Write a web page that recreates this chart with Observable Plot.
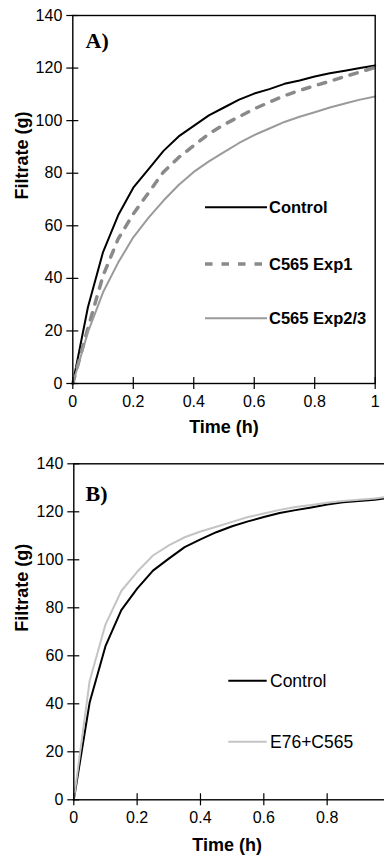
<!DOCTYPE html>
<html>
<head>
<meta charset="utf-8">
<script src="https://cdn.jsdelivr.net/npm/d3@7"></script>
<script src="https://cdn.jsdelivr.net/npm/@observablehq/plot@0.6"></script>
<style>
  html, body { margin: 0; padding: 0; background: #fff; }
  #wrap { position: relative; width: 384px; height: 855px; overflow: hidden; font-family: "Liberation Sans", Arial, sans-serif; }
  #wrap > div, #wrap > svg { position: absolute; left: 0; max-width: none !important; }
</style>
</head>
<body>
<div id="wrap"></div>
<script>
// ---------- Data ----------
const timeA = [0, 0.05, 0.1, 0.15, 0.2, 0.25, 0.3, 0.35, 0.4, 0.45, 0.5, 0.55, 0.6, 0.65, 0.7, 0.75, 0.8, 0.85, 0.9, 0.95, 1.0];
const controlA = [0, 29, 50, 64, 74.5, 81.5, 88.5, 94, 98, 102, 105, 108, 110.3, 112, 114, 115.3, 116.8, 118, 119, 120, 121];
const exp1A   = [0, 21, 41, 55, 64.5, 72.5, 80.5, 86, 90.5, 95, 98.5, 101.5, 104.5, 107, 109.5, 111.5, 113.3, 115, 116.8, 118.5, 120.3];
const exp23A  = [0, 19.5, 34.7, 46, 55.6, 63, 69.6, 75.5, 80.5, 84.5, 88, 91.5, 94.5, 97, 99.5, 101.5, 103.2, 105, 106.5, 108, 109.2];

const timeB = [0, 0.05, 0.1, 0.15, 0.2, 0.25, 0.3, 0.35, 0.4, 0.45, 0.5, 0.55, 0.6, 0.65, 0.7, 0.75, 0.8, 0.85, 0.9, 0.95, 1.0];
const controlB = [0, 40.5, 64, 79, 88, 95.5, 100.5, 105.3, 108.5, 111.5, 114, 116, 117.8, 119.5, 120.7, 121.8, 123, 124, 124.5, 125, 126];
const e76B     = [0, 49.5, 73, 87, 95, 101.8, 106, 109.4, 111.8, 113.8, 115.8, 117.8, 119.3, 120.8, 122, 122.8, 123.8, 124.5, 125, 125.5, 126.5];

const xTicks = [0, 0.2, 0.4, 0.6, 0.8, 1];
const xTickLabels = ["0", "0.2", "0.4", "0.6", "0.8", "1"];
const yTicks = [0, 20, 40, 60, 80, 100, 120, 140];

const seriesA = [
  {name: "Control", time: timeA, values: controlA, color: "#000000", width: 2, dash: null, bold: true},
  {name: "C565 Exp1", time: timeA, values: exp1A, color: "#8a8a8a", width: 3.5, dash: "7.5,9", bold: true},
  {name: "C565 Exp2/3", time: timeA, values: exp23A, color: "#9a9a9a", width: 2, dash: null, bold: true}
];
const seriesB = [
  {name: "Control", time: timeB, values: controlB, color: "#000000", width: 2, dash: null, bold: false},
  {name: "E76+C565", time: timeB, values: e76B, color: "#c4c4c4", width: 2, dash: null, bold: false}
];

const FONT = "Liberation Sans, Arial, sans-serif";

function panel(series, opts) {
  const marks = [];
  for (const s of series) {
    const rows = s.time.map((t, i) => ({t, v: s.values[i]}));
    marks.push(Plot.line(rows, {x: "t", y: "v", stroke: s.color, strokeWidth: s.width, strokeDasharray: s.dash || undefined, strokeLinejoin: "round"}));
  }
  marks.push(
    Plot.frame({stroke: "#000", strokeWidth: 1.4}),
    // crossing ticks
    Plot.axisX({ticks: xTicks, tickSize: 12, dy: -6, tickFormat: () => "", label: null, strokeWidth: 1.2}),
    Plot.axisY({ticks: yTicks, tickSize: 12, dx: 6, tickFormat: () => "", label: null, strokeWidth: 1.2}),
    // tick labels
    Plot.axisX({ticks: xTicks, tickSize: 0, tickPadding: opts.xPad, label: null, fontSize: 16,
      tickFormat: d => xTickLabels[xTicks.indexOf(d)]}),
    Plot.axisY({ticks: yTicks, tickSize: 0, tickPadding: 10.5, label: null, fontSize: 16, tickFormat: d => String(d)}),
    Plot.text(["Time (h)"], {text: d => d, frameAnchor: "bottom", dy: opts.xLabelDy, dx: opts.xLabelDx, lineAnchor: "middle", fontWeight: "bold", fontSize: 18}),
    Plot.text(["Filtrate (g)"], {text: d => d, frameAnchor: "left", dx: -(opts.marginLeft - 21.7), rotate: -90, lineAnchor: "middle", fontWeight: "bold", fontSize: 18}),
    Plot.text([opts.tag], {text: d => d, frameAnchor: "top-left", dx: opts.tagDx, dy: opts.tagDy, textAnchor: "start", lineAnchor: "middle", fontFamily: "Liberation Serif, Times New Roman, serif", fontWeight: "bold", fontSize: 22})
  );
  const svg = Plot.plot({
    width: opts.width,
    height: opts.height,
    marginLeft: opts.marginLeft,
    marginRight: opts.marginRight,
    marginTop: opts.marginTop,
    marginBottom: opts.marginBottom,
    x: {domain: [0, 1]},
    y: {domain: [0, 140]},
    style: {fontFamily: FONT, fontSize: "16px", color: "#000", background: "transparent", overflow: "visible", maxWidth: "none"},
    marks
  });
  svg.style.maxWidth = "none";
  svg.style.width = opts.width + "px";
  svg.style.height = opts.height + "px";
  return svg;
}

const wrap = document.getElementById("wrap");

const plotA = panel(seriesA, {width: 384, height: 440, marginLeft: 72.3, marginRight: 9.3, marginTop: 15, marginBottom: 57,
  xPad: 12, xLabelDy: 44, xLabelDx: 0, tag: "A)", tagDx: 12.7, tagDy: 25.7});
plotA.style.top = "0px";
wrap.appendChild(plotA);

const plotB = panel(seriesB, {width: 400, height: 415, marginLeft: 73.3, marginRight: 10, marginTop: 23.3, marginBottom: 55.7,
  xPad: 12, xLabelDy: 45.5, xLabelDx: -5, tag: "B)", tagDx: 11.7, tagDy: 30});
plotB.style.top = "440px";
wrap.appendChild(plotB);

// ---------- Legends (overlay) ----------
const legendSvg = d3.select(wrap).append("svg")
  .attr("width", 384).attr("height", 855)
  .style("top", "0px").style("pointer-events", "none");

function legend(series, x1, x2, ys, textX, fontSize) {
  series.forEach((s, i) => {
    legendSvg.append("line")
      .attr("x1", x1).attr("x2", x2).attr("y1", ys[i]).attr("y2", ys[i])
      .attr("stroke", s.color).attr("stroke-width", s.width)
      .attr("stroke-dasharray", s.dash);
    legendSvg.append("text")
      .attr("x", textX).attr("y", ys[i]).attr("dy", "0.35em")
      .attr("font-family", FONT).attr("font-size", fontSize)
      .attr("font-weight", s.bold ? "bold" : "normal")
      .attr("fill", "#000")
      .text(s.name);
  });
}
legend(seriesA, 205, 267, [207.3, 264, 318.3], 269, 16.5);
legend(seriesB, 228.3, 266.7, [680.7, 741.7], 270, 17.5);
</script>
</body>
</html>
